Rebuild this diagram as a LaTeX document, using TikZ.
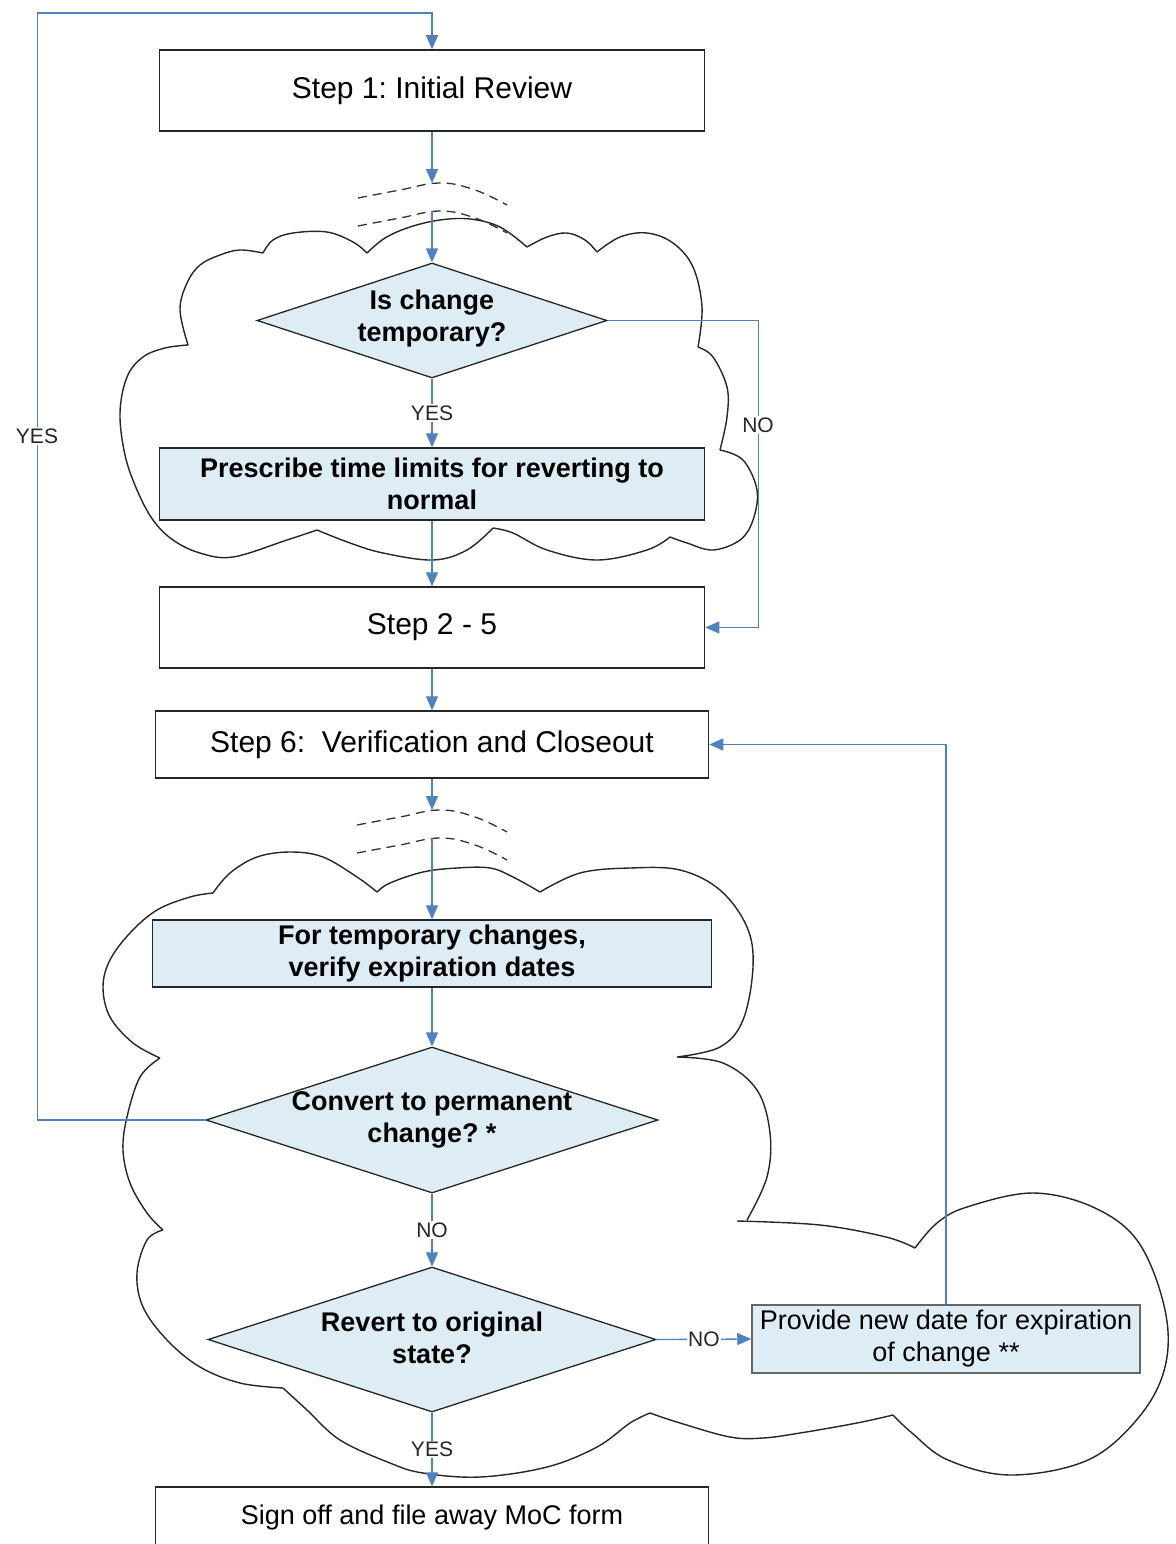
\documentclass[tikz,border=0pt]{standalone}
\usepackage{fontspec}
\setmainfont{Liberation Sans}
\usetikzlibrary{shapes.geometric,arrows.meta}
\definecolor{conn}{RGB}{79,129,189}
\definecolor{boxfill}{RGB}{222,237,245}
\tikzset{
 box/.style={draw=black!85, line width=1.5pt, inner sep=0pt, align=center, font=\fontsize{27}{32}\selectfont},
 bigbox/.style={box, font=\fontsize{30}{34}\selectfont},
 shadebox/.style={box, fill=boxfill, font=\fontsize{27}{32}\selectfont\bfseries},
 dec/.style={diamond, draw=black!85, line width=1.3pt, fill=boxfill, inner sep=0pt},
 dectext/.style={align=center, font=\fontsize{27}{32}\selectfont\bfseries, inner sep=0pt},
 lbl/.style={fill=white, inner sep=1.5pt, font=\fontsize{21}{24}\selectfont, text=black!85},
 flow/.style={draw=conn, line width=1.3pt, -{Triangle[length=14pt,width=12pt]}},
 brk/.style={draw=black!80, line width=1.3pt, dash pattern=on 9pt off 6pt},
 cloudline/.style={draw=black!85, line width=1.4pt},
}
\begin{document}
\frenchspacing
\begin{tikzpicture}[x=1pt,y=-1pt]
\useasboundingbox (0,0) rectangle (1175,1544);

% ---------- cloud 1 ----------
\draw[cloudline]
 plot[smooth,tension=0.6] coordinates {(188,345) (180,310) (187,283) (200,265) (220,255) (240,250) (263,253)}
 plot[smooth,tension=0.6] coordinates {(263,253) (273,240) (293,233) (327,232) (353,242) (367,253)}
 plot[smooth,tension=0.6] coordinates {(367,253) (385,238) (410,227) (440,220) (470,219) (500,227) (527,247)}
 plot[smooth,tension=0.6] coordinates {(527,247) (547,237) (567,233) (585,240) (597,252)}
 plot[smooth,tension=0.6] coordinates {(597,252) (620,237) (647,233) (673,243) (693,267) (702,307) (698,347)}
 plot[smooth,tension=0.6] coordinates {(698,347) (713,357) (727,387) (727,417) (720,450)}
 plot[smooth,tension=0.6] coordinates {(720,450) (743,460) (757,490) (753,520) (740,540) (713,550) (687,543) (670,537)}
 plot[smooth,tension=0.6] coordinates {(670,537) (647,550) (597,560) (547,550) (513,533) (493,528)}
 plot[smooth,tension=0.6] coordinates {(493,528) (467,550) (433,560) (383,553) (350,543) (317,530)}
 plot[smooth,tension=0.6] coordinates {(317,530) (287,540) (233,557) (200,553) (173,540) (153,520) (137,490) (125,455) (120,413) (127,377) (143,357) (165,348) (188,345)};

% ---------- cloud 2 ----------
\draw[cloudline]
 plot[smooth,tension=0.6] coordinates {(213,893) (230,873) (257,857) (290,852) (323,857) (357,877) (377,892)}
 plot[smooth,tension=0.6] coordinates {(377,892) (390,883) (423,872) (457,868) (490,868) (513,877) (540,892)}
 plot[smooth,tension=0.6] coordinates {(540,892) (580,873) (630,868) (680,870) (720,890) (747,927) (753,967) (743,1020) (720,1047) (677,1057)}
 plot[smooth,tension=0.6] coordinates {(677,1057) (723,1063) (757,1090) (770,1133) (767,1177) (747,1220)}
 plot[smooth,tension=0.6] coordinates {(737,1221) (820,1225) (886,1237) (915,1248)}
 plot[smooth,tension=0.6] coordinates {(915,1248) (937,1223) (967,1207) (1033,1193) (1095,1208) (1139,1243) (1165,1310) (1165,1367) (1139,1417) (1088,1460) (1011,1475) (948,1460) (912,1433) (893,1415)}
 plot[smooth,tension=0.6] coordinates {(893,1415) (857,1423) (800,1433) (763,1438) (730,1437) (680,1423) (650,1413)}
 plot[smooth,tension=0.6] coordinates {(650,1413) (630,1423) (597,1447) (547,1467) (480,1477) (423,1473) (390,1463) (340,1440) (307,1410) (283,1388)}
 plot[smooth,tension=0.6] coordinates {(283,1388) (240,1383) (200,1367) (167,1340) (143,1307) (137,1273) (147,1240) (163,1230)}
 plot[smooth,tension=0.6] coordinates {(163,1230) (147,1213) (130,1183) (123,1150) (127,1117) (140,1077) (160,1058)}
 plot[smooth,tension=0.6] coordinates {(160,1058) (133,1043) (110,1017) (103,987) (110,960) (130,933) (157,910) (190,897) (213,893)};

% ---------- break marks ----------
\draw[brk] plot[smooth,tension=0.7] coordinates {(358,198) (400,190) (440,183) (475,190) (507,205)};
\draw[brk] plot[smooth,tension=0.7] coordinates {(358,226) (400,218) (440,211) (475,218) (507,233)};
\draw[brk] plot[smooth,tension=0.7] coordinates {(357,825) (400,817) (440,810) (475,817) (507,832)};
\draw[brk] plot[smooth,tension=0.7] coordinates {(357,853) (400,845) (440,838) (475,845) (507,860)};

% ---------- nodes ----------
\node[bigbox, minimum width=545pt, minimum height=81pt] (s1) at (432,90.5) {Step 1: Initial Review};
\node[dec, minimum width=350pt, minimum height=115pt] (d1) at (432,320.5) {};
\node[dectext] (d1t) at (432,319) {Is change\\temporary?};
\node[shadebox, minimum width=545pt, minimum height=72pt] (pr) at (432,484) {Prescribe time limits for reverting to\\normal};
\node[bigbox, minimum width=545pt, minimum height=81pt] (s25) at (432,627.5) {Step 2 - 5};
\node[bigbox, minimum width=553pt, minimum height=67pt] (s6) at (432,744.5) {Step 6:~ Verification and Closeout};
\node[shadebox, minimum width=559pt, minimum height=67pt] (bf) at (432,953.5) {For temporary changes,\\verify expiration dates};
\node[dec, minimum width=452pt, minimum height=146pt] (d2) at (432,1120) {};
\node[dectext] (d2t) at (432,1120) {Convert to permanent\\change? *};
\node[dec, minimum width=448pt, minimum height=145pt] (d3) at (432,1339.5) {};
\node[dectext] (d3t) at (432,1338) {Revert to original\\state?};
\node[box, fill=boxfill, draw=black!60, minimum width=388pt, minimum height=68pt] (pv) at (946,1339) {Provide new date for expiration\\of change **};
\node[box, minimum width=553pt, minimum height=62pt] (so) at (432,1518) {Sign off and file away MoC form};

\coordinate (b1a) at (432,183);
\coordinate (b1b) at (432,211);
\coordinate (b2a) at (432,810);
\coordinate (b2b) at (432,838);
\coordinate (topc) at (432,13);

% ---------- connectors ----------
\draw[flow] (s1.south) -- (b1a);
\draw[flow] (b1b) -- (d1.north);
\draw[flow] (d1.south) -- node[lbl] (ly1) {YES} (pr.north);
\draw[flow] (d1.east) -- ++(151,0) |- (s25.east);
\node[lbl] (ln1) at (758,425) {NO};
\draw[flow] (pr.south) -- (s25.north);
\draw[flow] (s25.south) -- (s6.north);
\draw[flow] (s6.south) -- (b2a);
\draw[flow] (b2b) -- (bf.north);
\draw[flow] (bf.south) -- (d2.north);
\draw[flow] (d2.west) -- ++(-168,0) |- (topc) -- (s1.north);
\node[lbl] (ly2) at (37,436) {YES};
\draw[flow] (d2.south) -- node[lbl] (ln2) {NO} (d3.north);
\draw[flow] (d3.east) -- node[lbl] (ln3) {NO} (pv.west);
\draw[flow] (d3.south) -- node[lbl] (ly3) {YES} (so.north);
\draw[flow] (pv.north) |- (s6.east);
\end{tikzpicture}
\end{document}
